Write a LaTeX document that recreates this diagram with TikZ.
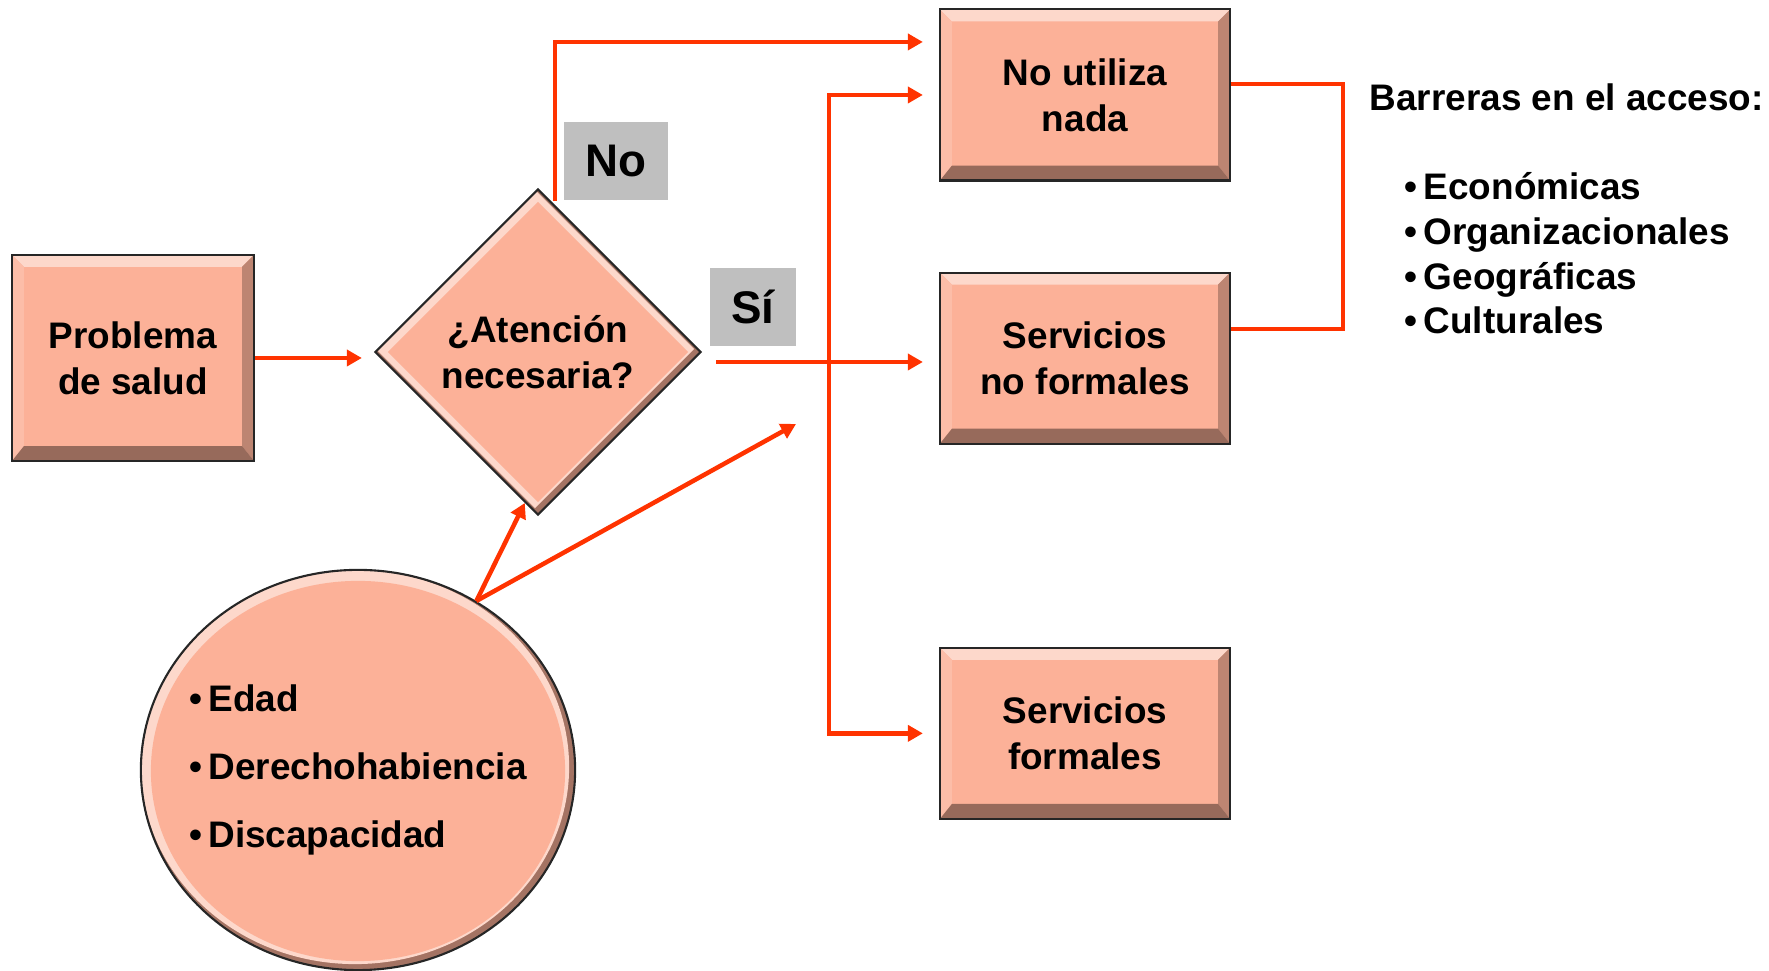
\documentclass[tikz,border=0pt]{standalone}
\usepackage{fontspec}
\setmainfont{Liberation Sans}
\usetikzlibrary{arrows.meta,positioning,shapes.geometric}

\definecolor{salmon}{RGB}{252,177,152}
\definecolor{flowred}{RGB}{255,51,0}
\definecolor{taggray}{RGB}{191,191,191}

\newcommand{\boxfont}{\fontsize{10.5}{13}\selectfont\bfseries}
\newcommand{\listfont}{\fontsize{10.5}{19.4}\selectfont\bfseries}
\newcommand{\tagfont}{\fontsize{13}{15}\selectfont\bfseries}

\tikzset{
  bevel/.style={path picture={
    \coordinate (bnw) at (path picture bounding box.north west);
    \coordinate (bne) at (path picture bounding box.north east);
    \coordinate (bsw) at (path picture bounding box.south west);
    \coordinate (bse) at (path picture bounding box.south east);
    \fill[salmon!50!white] (bnw) -- (bne) -- ([shift={(-0.12cm,-0.12cm)}]bne) -- ([shift={(0.12cm,-0.12cm)}]bnw) -- cycle;
    \fill[salmon!85!white] (bnw) -- (bsw) -- ([shift={(0.12cm,0.15cm)}]bsw) -- ([shift={(0.12cm,-0.12cm)}]bnw) -- cycle;
    \fill[salmon!75!black] (bne) -- (bse) -- ([shift={(-0.12cm,0.15cm)}]bse) -- ([shift={(-0.12cm,-0.12cm)}]bne) -- cycle;
    \fill[salmon!60!black] (bsw) -- (bse) -- ([shift={(-0.12cm,0.15cm)}]bse) -- ([shift={(0.12cm,0.15cm)}]bsw) -- cycle;
  }},
  roundbevel/.style={path picture={
    \coordinate (bc) at (path picture bounding box.center);
    \fill[salmon!65!black] (path picture bounding box.south west) rectangle (path picture bounding box.north east);
    \fill[salmon!50!white] ([shift={(-0.03cm,0.03cm)}]bc) ellipse (2.14cm and 1.97cm);
    \fill[salmon] ([shift={(0cm,-0.01cm)}]bc) ellipse (2.07cm and 1.9cm);
  }},
  diamondbevel/.style={path picture={
    \coordinate (bc) at (path picture bounding box.center);
    \fill[salmon!65!black] (path picture bounding box.south west) rectangle (path picture bounding box.north east);
    \fill[salmon!50!white] ([shift={(-1.62cm,0.03cm)}]bc) -- ([shift={(-0.03cm,1.62cm)}]bc)
        -- ([shift={(1.56cm,0.03cm)}]bc) -- ([shift={(-0.03cm,-1.56cm)}]bc) -- cycle;
    \fill[salmon] ([shift={(-1.5cm,0cm)}]bc) -- ([shift={(0cm,1.5cm)}]bc)
        -- ([shift={(1.5cm,0cm)}]bc) -- ([shift={(0cm,-1.5cm)}]bc) -- cycle;
  }}
}

\begin{document}
\begin{tikzpicture}[x=0.01cm, y=-0.01cm, on grid,
    box/.style={rectangle, draw=black!85, line width=0.6pt, fill=salmon, bevel,
                minimum width=2.9cm, minimum height=1.71cm, align=center, font=\boxfont},
    decision/.style={diamond, draw=black!85, line width=0.6pt, fill=salmon, diamondbevel,
                minimum width=3.26cm, minimum height=3.26cm, inner sep=0pt, align=center, font=\boxfont},
    factor/.style={ellipse, draw=black!85, line width=0.6pt, fill=salmon, roundbevel,
                minimum width=4.34cm, minimum height=4cm},
    tag/.style={fill=taggray, minimum width=1.04cm, minimum height=0.78cm, inner sep=0pt, font=\tagfont},
    item/.style={anchor=base west, inner sep=0pt, font=\boxfont},
    flow/.style={draw=flowred, line width=0.045cm, -{Triangle[length=0.15cm,width=0.16cm]}, shorten >=0.16cm},
    link/.style={draw=flowred, line width=0.045cm}]
  \useasboundingbox (0,0) rectangle (1769,971);

  % decision chain
  \node[box, minimum width=2.42cm, minimum height=2.06cm] (prob) at (133,358) {Problema\\de salud};
  \node[decision] (atn) at (538,352) {¿Atención\\necesaria?};
  \node[tag] (nolab) at (616,161) {No};
  \node[tag, minimum width=0.85cm] (silab) at (753,307) {Sí};

  % outcomes
  \node[box] (noutil) at (1085,95) {No utiliza\\nada};
  \node[box] (nofor)  [below=2.63cm of noutil] {Servicios\\no formales};
  \node[box] (formal) [below=3.75cm of nofor]  {Servicios\\formales};

  % factors
  \node[factor] (fac) at (358,770) {};
  \node[align=left, font=\listfont] (facl) at (fac) {\textbullet\,Edad\\\textbullet\,Derechohabiencia\\\textbullet\,Discapacidad};

  % barriers
  \node[item] (barr) at (1369,111) {Barreras en el acceso:};
  \node[item] (eco) at (1404,200) {\textbullet\,Económicas};
  \node[item] (org) at (1404,245) {\textbullet\,Organizacionales};
  \node[item] (geo) at (1404,290) {\textbullet\,Geográficas};
  \node[item] (cul) at (1404,334) {\textbullet\,Culturales};

  \coordinate (nostart) at (555,201);
  \coordinate (sistart) at (716,362);
  \coordinate (bus) at (829,362);
  \coordinate (brk) at (1343,200);
  \coordinate (sifac) at (796,424);

  \draw[flow, shorten >=0.12cm] (prob.east) -- (prob.east -| atn.west);
  \draw[flow] (nostart) |- ([yshift=0.53cm]noutil.west);
  \draw[flow] (sistart) -- (sistart -| nofor.west);
  \draw[flow] (bus) |- (noutil.west);
  \draw[flow] (bus) |- (formal.west);
  \draw[link] ([yshift=0.11cm]noutil.east) -| (brk) |- ([yshift=0.29cm]nofor.east);
  \draw[flow, shorten >=0pt] (fac.55) -- (atn.-95);
  \draw[flow, shorten >=0pt] (fac.55) -- (sifac);
\end{tikzpicture}
\end{document}
